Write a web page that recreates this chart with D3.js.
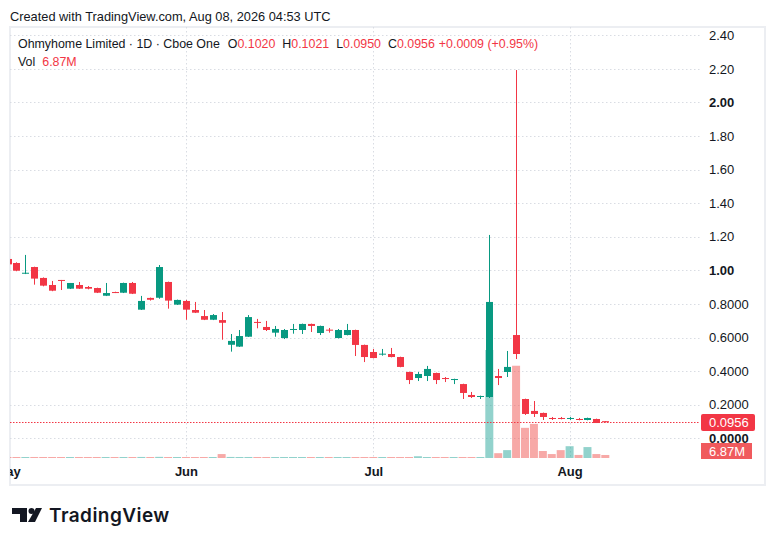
<!DOCTYPE html>
<html>
<head>
<meta charset="utf-8">
<script src="https://cdn.jsdelivr.net/npm/d3@7"></script>
<style>
  body { margin: 0; background: #ffffff; }
  svg { display: block; font-family: "Liberation Sans", Arial, sans-serif; }
</style>
</head>
<body>
<svg id="chart"></svg>
<script>
// Data
let dates = [
  "2026-05-01", "2026-05-04", "2026-05-05", "2026-05-06", "2026-05-07", "2026-05-08",
  "2026-05-11", "2026-05-12", "2026-05-13", "2026-05-14", "2026-05-15", "2026-05-18",
  "2026-05-19", "2026-05-20", "2026-05-21", "2026-05-22", "2026-05-26", "2026-05-27",
  "2026-05-28", "2026-05-29",
  "2026-06-01", "2026-06-02", "2026-06-03", "2026-06-04", "2026-06-05", "2026-06-08",
  "2026-06-09", "2026-06-10", "2026-06-11", "2026-06-12", "2026-06-15", "2026-06-16",
  "2026-06-17", "2026-06-18", "2026-06-22", "2026-06-23", "2026-06-24", "2026-06-25",
  "2026-06-26", "2026-06-29", "2026-06-30",
  "2026-07-01", "2026-07-02", "2026-07-06", "2026-07-07", "2026-07-08", "2026-07-09",
  "2026-07-10", "2026-07-13", "2026-07-14", "2026-07-15", "2026-07-16", "2026-07-17",
  "2026-07-20", "2026-07-21", "2026-07-22", "2026-07-23", "2026-07-24", "2026-07-27",
  "2026-07-28", "2026-07-29", "2026-07-30", "2026-07-31",
  "2026-08-03", "2026-08-04", "2026-08-05", "2026-08-06", "2026-08-07"
];

let opens = [
  1.068, 1.044, 0.980, 1.020, 0.955, 0.913, 0.943, 0.891, 0.913, 0.901,
  0.895, 0.849, 0.871, 0.867, 0.925, 0.766, 0.836, 0.837, 0.931, 0.796,
  0.818, 0.764, 0.728, 0.706, 0.704, 0.557, 0.546, 0.605, 0.693, 0.663,
  0.629, 0.597, 0.647, 0.645, 0.681, 0.627, 0.647, 0.597, 0.615, 0.645,
  0.556, 0.514, 0.500, 0.502, 0.484, 0.395, 0.359, 0.371, 0.389, 0.359,
  0.349, 0.323, 0.258, 0.246, 0.246, 0.371, 0.395, 0.615, 0.234, 0.163,
  0.151, 0.121, 0.121, 0.115, 0.115, 0.109, 0.115, 0.1020
];
let highs = [
  1.075, 1.048, 1.092, 1.022, 0.958, 0.937, 0.943, 0.925, 0.931, 0.907,
  0.897, 0.925, 0.873, 0.927, 0.931, 0.848, 0.838, 1.032, 0.933, 0.826,
  0.824, 0.812, 0.764, 0.740, 0.752, 0.621, 0.645, 0.734, 0.711, 0.699,
  0.669, 0.651, 0.681, 0.683, 0.683, 0.671, 0.657, 0.651, 0.681, 0.647,
  0.558, 0.532, 0.532, 0.538, 0.486, 0.397, 0.395, 0.431, 0.391, 0.365,
  0.355, 0.325, 0.276, 0.254, 1.211, 0.413, 0.520, 2.193, 0.236, 0.222,
  0.153, 0.127, 0.127, 0.127, 0.121, 0.123, 0.117, 0.1021
];
let lows = [
  1.030, 0.995, 0.978, 0.915, 0.905, 0.876, 0.883, 0.889, 0.889, 0.887,
  0.865, 0.847, 0.865, 0.865, 0.859, 0.764, 0.820, 0.831, 0.772, 0.794,
  0.706, 0.746, 0.704, 0.704, 0.587, 0.516, 0.544, 0.603, 0.655, 0.639,
  0.605, 0.591, 0.623, 0.621, 0.633, 0.615, 0.629, 0.595, 0.613, 0.490,
  0.454, 0.476, 0.492, 0.482, 0.423, 0.323, 0.341, 0.341, 0.323, 0.335,
  0.323, 0.234, 0.240, 0.234, 0.240, 0.317, 0.365, 0.472, 0.139, 0.127,
  0.109, 0.109, 0.113, 0.109, 0.107, 0.107, 0.091, 0.0950
];
let closes = [
  1.036, 0.998, 0.986, 0.951, 0.909, 0.879, 0.937, 0.925, 0.891, 0.891,
  0.867, 0.865, 0.867, 0.925, 0.861, 0.818, 0.825, 1.020, 0.820, 0.824,
  0.766, 0.748, 0.706, 0.734, 0.688, 0.580, 0.609, 0.722, 0.687, 0.645,
  0.651, 0.645, 0.651, 0.681, 0.669, 0.669, 0.641, 0.645, 0.645, 0.556,
  0.484, 0.478, 0.504, 0.484, 0.425, 0.347, 0.383, 0.413, 0.347, 0.353,
  0.353, 0.270, 0.246, 0.252, 0.812, 0.359, 0.425, 0.502, 0.145, 0.145,
  0.127, 0.115, 0.115, 0.121, 0.109, 0.121, 0.091, 0.0956
];
// volume in millions of shares
let volumes = [
  1.8, 2.1, 1.6, 2.3, 1.9, 1.5, 1.7, 2.0, 1.6, 1.4,
  1.8, 2.2, 1.3, 1.9, 2.1, 2.4, 1.5, 2.6, 2.2, 1.7,
  1.9, 1.6, 2.0, 1.8, 9.0, 2.4, 2.1, 2.3, 1.7, 1.5,
  1.6, 1.8, 1.4, 1.9, 1.6, 1.7, 1.5, 1.8, 1.6, 2.2,
  2.0, 1.7, 1.6, 1.8, 1.9, 2.1, 4.0, 1.8, 1.9, 1.6,
  1.7, 2.0, 1.8, 1.9, 247, 11, 18, 211, 69, 78,
  16, 9, 18, 27, 7, 25, 9, 6.87
];

let priceTicks = [0, 0.2, 0.4, 0.6, 0.8, 1.0, 1.2, 1.4, 1.6, 1.8, 2.0, 2.2, 2.4];
let priceTickLabels = ["0.0000", "0.2000", "0.4000", "0.6000", "0.8000", "1.00", "1.20",
  "1.40", "1.60", "1.80", "2.00", "2.20", "2.40"];
let boldTicks = [0, 1.0, 2.0];

let monthTicks = ["2026-05-01", "2026-06-01", "2026-07-01", "2026-08-03"];
let monthLabels = ["May", "Jun", "Jul", "Aug"];

let lastPrice = 0.0956;
let lastVolumeLabel = "6.87M";

// Layout
let width = 776;
let height = 546;
let pane = { left: 10, right: 700, top: 27, bottom: 459 };

let upColor = "#089981";
let downColor = "#f23645";
let upVolColor = "rgba(38,166,154,0.5)";
let downVolColor = "rgba(239,83,80,0.5)";
let textColor = "#131722";
let gridColor = "#d9dce3";

let svg = d3.select("#chart").attr("width", width).attr("height", height);

let xScale = d3.scalePoint().domain(dates).range([7.5, 605.3]);
let yScale = d3.scaleLinear().domain([0, 2.4]).range([438.3, 35.3]);
let vScale = d3.scaleLinear().domain([0, 247]).range([458, 350]);

let bars = dates.map((d, i) => ({
  date: d, o: opens[i], h: highs[i], l: lows[i], c: closes[i], v: volumes[i],
  up: closes[i] >= opens[i]
}));

let defs = svg.append("defs");
defs.append("clipPath").attr("id", "paneClip").append("rect")
  .attr("x", pane.left).attr("y", pane.top)
  .attr("width", pane.right - pane.left).attr("height", pane.bottom - pane.top);
defs.append("clipPath").attr("id", "timeClip").append("rect")
  .attr("x", pane.left).attr("y", pane.bottom)
  .attr("width", pane.right - pane.left).attr("height", 26);

let drawFrame = () => {
  svg.append("rect")
    .attr("x", 10).attr("y", 27)
    .attr("width", 755).attr("height", 458)
    .attr("fill", "none")
    .attr("stroke", "#eceef2")
    .attr("stroke-width", 2);

  svg.append("text")
    .attr("x", 10).attr("y", 21)
    .attr("font-size", 12.8)
    .attr("fill", textColor)
    .text("Created with TradingView.com, Aug 08, 2026 04:53 UTC");
};

let drawGrid = () => {
  let g = svg.append("g").attr("class", "grid");
  g.selectAll("line.h")
    .data(priceTicks)
    .enter()
    .append("line")
    .attr("class", "h")
    .attr("x1", pane.left).attr("x2", pane.right)
    .attr("y1", (d) => Math.round(yScale(d)) + 0.5)
    .attr("y2", (d) => Math.round(yScale(d)) + 0.5)
    .attr("stroke", gridColor)
    .attr("stroke-dasharray", "1.5,2.5");

  g.selectAll("line.v")
    .data(monthTicks.slice(1))
    .enter()
    .append("line")
    .attr("class", "v")
    .attr("x1", (d) => Math.round(xScale(d)) + 0.5)
    .attr("x2", (d) => Math.round(xScale(d)) + 0.5)
    .attr("y1", pane.top).attr("y2", pane.bottom)
    .attr("stroke", gridColor)
    .attr("stroke-dasharray", "1.5,2.5");
};

let drawVolume = () => {
  svg.append("g")
    .attr("clip-path", "url(#paneClip)")
    .selectAll("rect")
    .data(bars)
    .enter()
    .append("rect")
    .attr("x", (d) => xScale(d.date) - 4)
    .attr("width", 8)
    .attr("y", (d) => Math.min(vScale(d.v), vScale(0) - 1))
    .attr("height", (d) => Math.max(1, vScale(0) - vScale(d.v)))
    .attr("fill", (d) => (d.up ? upVolColor : downVolColor));
};

let drawCandles = () => {
  let g = svg.append("g").attr("clip-path", "url(#paneClip)");

  g.selectAll("line.wick")
    .data(bars)
    .enter()
    .append("line")
    .attr("class", "wick")
    .attr("x1", (d) => Math.round(xScale(d.date)) + 0.5)
    .attr("x2", (d) => Math.round(xScale(d.date)) + 0.5)
    .attr("y1", (d) => yScale(d.h))
    .attr("y2", (d) => yScale(d.l))
    .attr("stroke", (d) => (d.up ? upColor : downColor))
    .attr("stroke-width", 1);

  g.selectAll("rect.body")
    .data(bars)
    .enter()
    .append("rect")
    .attr("class", "body")
    .attr("x", (d) => Math.round(xScale(d.date)) - 3)
    .attr("width", 7)
    .attr("y", (d) => yScale(Math.max(d.o, d.c)))
    .attr("height", (d) => Math.max(1, Math.abs(yScale(d.o) - yScale(d.c))))
    .attr("fill", (d) => (d.up ? upColor : downColor));

  // last price line
  g.append("line")
    .attr("x1", pane.left).attr("x2", pane.right)
    .attr("y1", Math.round(yScale(lastPrice)) + 0.5)
    .attr("y2", Math.round(yScale(lastPrice)) + 0.5)
    .attr("stroke", downColor)
    .attr("stroke-dasharray", "1.5,1.5");
};

let generateAxes = () => {
  let xAxis = d3.axisBottom(xScale)
    .tickValues(monthTicks)
    .tickFormat((d, i) => monthLabels[i])
    .tickSize(0)
    .tickPadding(8);

  // clip on an outer group so the clip rect stays in page coordinates
  let xg = svg.append("g")
    .attr("clip-path", "url(#timeClip)")
    .append("g")
    .attr("id", "x-axis")
    .attr("transform", "translate(0, " + pane.bottom + ")")
    .call(xAxis);
  xg.select(".domain").remove();
  xg.selectAll("text")
    .attr("font-family", "'Liberation Sans', Arial, sans-serif")
    .attr("font-size", 13)
    .attr("font-weight", "bold")
    .attr("fill", textColor);

  let yAxis = d3.axisRight(yScale)
    .tickValues(priceTicks)
    .tickFormat((d, i) => priceTickLabels[i])
    .tickSize(0)
    .tickPadding(9);

  let yg = svg.append("g")
    .attr("id", "y-axis")
    .attr("transform", "translate(" + pane.right + ", 0)")
    .call(yAxis);
  yg.select(".domain").remove();
  yg.selectAll("text")
    .attr("font-family", "'Liberation Sans', Arial, sans-serif")
    .attr("font-size", 13)
    .attr("font-weight", (d) => (boldTicks.includes(d) ? "bold" : "normal"))
    .attr("fill", textColor);
};

let drawAxisLabels = () => {
  let py = Math.round(yScale(lastPrice));
  svg.append("rect")
    .attr("x", 701).attr("y", py - 8)
    .attr("width", 54).attr("height", 17)
    .attr("rx", 2)
    .attr("fill", downColor);
  svg.append("text")
    .attr("x", 709).attr("y", py + 5)
    .attr("font-size", 13)
    .attr("fill", "#ffffff")
    .text(lastPrice.toFixed(4));

  let vy = Math.min(vScale(volumes[volumes.length - 1]), pane.bottom - 9);
  svg.append("rect")
    .attr("x", 701).attr("y", vy - 7)
    .attr("width", 51).attr("height", 16)
    .attr("fill", "#f05a5d");
  svg.append("text")
    .attr("x", 709).attr("y", vy + 6)
    .attr("font-size", 13)
    .attr("fill", "#ffffff")
    .text(lastVolumeLabel);
};

let drawLegend = () => {
  let last = bars[bars.length - 1];
  let t = svg.append("text")
    .attr("x", 18).attr("y", 48)
    .attr("font-size", 12.4)
    .attr("fill", textColor);
  t.append("tspan").text("Ohmyhome Limited · 1D · Cboe One");
  let parts = [["O", last.o], ["H", last.h], ["L", last.l], ["C", last.c]];
  parts.forEach((p, i) => {
    t.append("tspan").attr("dx", i === 0 ? 8 : 7).text(p[0]);
    t.append("tspan").attr("fill", downColor).text(p[1].toFixed(4));
  });
  t.append("tspan").attr("dx", 4).attr("fill", downColor).text("+0.0009 (+0.95%)");

  let v = svg.append("text")
    .attr("x", 18).attr("y", 66)
    .attr("font-size", 12.4)
    .attr("fill", textColor);
  v.append("tspan").text("Vol");
  v.append("tspan").attr("dx", 7).attr("fill", downColor).text(lastVolumeLabel);
};

let drawLogo = () => {
  let g = svg.append("g").attr("fill", textColor);
  g.append("path").attr("d", "M12,508 H27 V522 H20 V514 H12 Z");
  g.append("circle").attr("cx", 31.5).attr("cy", 511).attr("r", 3);
  g.append("path").attr("d", "M36,508 H42 L35,522 H28 Z");
  g.append("text")
    .attr("x", 49).attr("y", 522)
    .attr("font-family", "Inter, 'Liberation Sans', sans-serif")
    .attr("font-size", 19)
    .attr("font-weight", 600)
    .attr("letter-spacing", 0.45)
    .text("TradingView");
};

drawFrame();
drawGrid();
drawVolume();
drawCandles();
generateAxes();
drawAxisLabels();
drawLegend();
drawLogo();
</script>
</body>
</html>
